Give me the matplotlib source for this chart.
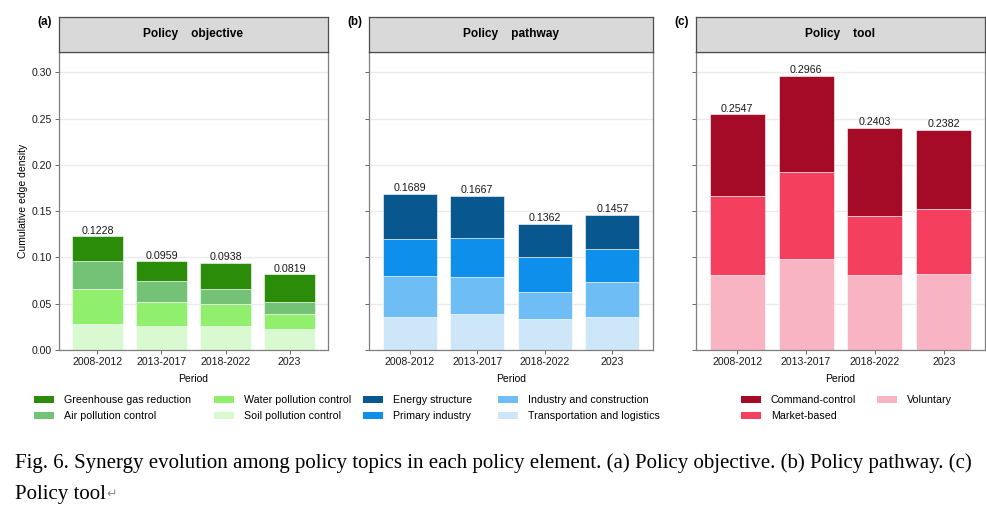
import numpy as np
import matplotlib.pyplot as plt
from matplotlib.patches import Patch

plt.rcParams['font.family'] = ['Liberation Sans', 'DejaVu Sans']

periods = ['2008-2012', '2013-2017', '2018-2022', '2023']

# Panel (a) policy objective, stacked bottom -> top
obj_names = ['Soil pollution control', 'Water pollution control',
             'Air pollution control', 'Greenhouse gas reduction']
obj_soil = [0.0277, 0.0256, 0.0263, 0.0223]
obj_water = [0.0385, 0.0266, 0.0231, 0.0169]
obj_air = [0.0300, 0.0223, 0.0168, 0.0123]
obj_ghg = [0.0266, 0.0214, 0.0276, 0.0304]
obj_total = [0.1228, 0.0959, 0.0938, 0.0819]

# Panel (b) policy pathway
path_names = ['Transportation and logistics', 'Industry and construction',
              'Primary industry', 'Energy structure']
path_transport = [0.0358, 0.0384, 0.0330, 0.0355]
path_industry = [0.0441, 0.0405, 0.0297, 0.0380]
path_primary = [0.0402, 0.0419, 0.0380, 0.0355]
path_energy = [0.0488, 0.0459, 0.0355, 0.0367]
path_total = [0.1689, 0.1667, 0.1362, 0.1457]

# Panel (c) policy tool
tool_names = ['Voluntary', 'Market-based', 'Command-control']
tool_voluntary = [0.0814, 0.0978, 0.0810, 0.0824]
tool_market = [0.0845, 0.0950, 0.0638, 0.0703]
tool_command = [0.0888, 0.1038, 0.0955, 0.0855]
tool_total = [0.2547, 0.2966, 0.2403, 0.2382]

green = ['#D9FAD0', '#90F06E', '#74C276', '#2B8C0A']
blue = ['#CDE7F9', '#6EBEF5', '#0F8FEC', '#08588F']
red = ['#F8B4C3', '#F43F5E', '#A50A26']

panels = [
    dict(tag='(a)', title='Policy    objective', names=obj_names,
         series=[obj_soil, obj_water, obj_air, obj_ghg], totals=obj_total,
         colors=green, x0=59, x1=328, legx=[34, 214], legorder=[3, 2, 1, 0]),
    dict(tag='(b)', title='Policy    pathway', names=path_names,
         series=[path_transport, path_industry, path_primary, path_energy],
         totals=path_total, colors=blue, x0=369, x1=653, legx=[363, 498],
         legorder=[3, 2, 1, 0]),
    dict(tag='(c)', title='Policy    tool', names=tool_names,
         series=[tool_voluntary, tool_market, tool_command], totals=tool_total,
         colors=red, x0=696, x1=985, legx=[741, 877], legorder=[2, 1, 0]),
]

W, H = 987, 508
fig = plt.figure(figsize=(W / 100, H / 100), dpi=100)

top_px, bot_px, strip_top = 52, 350, 17
x = np.arange(len(periods))

for i, p in enumerate(panels):
    ax = fig.add_axes([p['x0'] / W, 1 - bot_px / H, (p['x1'] - p['x0']) / W,
                       (bot_px - top_px) / H])
    bottom = np.zeros(len(periods))
    for vals, col in zip(p['series'], p['colors']):
        ax.bar(x, vals, width=0.8, bottom=bottom, color=col,
               edgecolor='white', linewidth=0.4, zorder=2)
        bottom += np.array(vals)
    for xi, t in zip(x, p['totals']):
        ax.annotate(f'{t:.4f}', (xi, t), xytext=(0, 0.5),
                    textcoords='offset points', ha='center', va='bottom',
                    fontsize=7.7, color='#1a1a1a')
    ax.set_xlim(-0.6, 3.6)
    ax.set_ylim(0, 0.322)
    ax.set_yticks([0, 0.05, 0.10, 0.15, 0.20, 0.25, 0.30])
    ax.yaxis.grid(True, color='#EBEBEB', lw=1, zorder=0)
    ax.set_axisbelow(True)
    ax.set_xticks(x)
    ax.set_xticklabels(periods, fontsize=7.6, color='#1a1a1a')
    if i == 0:
        ax.set_yticklabels(['0.00', '0.05', '0.10', '0.15', '0.20', '0.25', '0.30'],
                           fontsize=7.6, color='#1a1a1a')
        ax.set_ylabel('Cumulative edge density', fontsize=7.5, labelpad=3)
    else:
        ax.set_yticklabels([])
    ax.tick_params(length=3, width=0.6, color='#4d4d4d', pad=2)
    for s in ax.spines.values():
        s.set_color('#7f7f7f')
        s.set_linewidth(0.9)
    ax.set_xlabel('Period', fontsize=7.5, labelpad=5)

    # facet strip
    sax = fig.add_axes([p['x0'] / W, 1 - top_px / H, (p['x1'] - p['x0']) / W,
                        (top_px - strip_top) / H])
    sax.set_xticks([])
    sax.set_yticks([])
    sax.set_facecolor('#D9D9D9')
    for s in sax.spines.values():
        s.set_color('#4d4d4d')
        s.set_linewidth(0.9)
    sax.text(0.5, 0.5, p['title'], ha='center', va='center', fontsize=8.6,
             fontweight='bold', transform=sax.transAxes)
    fig.text((p['x0'] - 7) / W, 1 - 22 / H, p['tag'], ha='right', va='center',
             fontsize=8.4, fontweight='bold')

    # legend, two columns
    handles = [Patch(facecolor=p['colors'][k], label=p['names'][k])
               for k in p['legorder']]
    cols = [handles[:2], handles[2:]]
    for c, hs in enumerate(cols):
        fig.legend(handles=hs, loc='upper left',
                   bbox_to_anchor=(p['legx'][c] / W, 1 - 395 / H),
                   frameon=False, fontsize=7.7, handlelength=1.85,
                   handleheight=0.65, handletextpad=0.95,
                   labelspacing=0.6, borderpad=0, borderaxespad=0)

cap_font = ['Liberation Serif', 'DejaVu Sans']
fig.text(15 / W, 1 - 463 / H,
         'Fig. 6. Synergy evolution among policy topics in each policy element. '
         '(a) Policy objective. (b) Policy pathway. (c)',
         ha='left', va='center', fontsize=15, family=cap_font)
fig.text(15 / W, 1 - 494 / H, 'Policy tool', ha='left', va='center',
         fontsize=15, family=cap_font)
fig.text(106 / W, 1 - 494 / H, '\u21b5', ha='left', va='center',
         fontsize=9, color='#8c8c8c', family=['DejaVu Sans'])

fig.savefig('out.png', dpi=100)
